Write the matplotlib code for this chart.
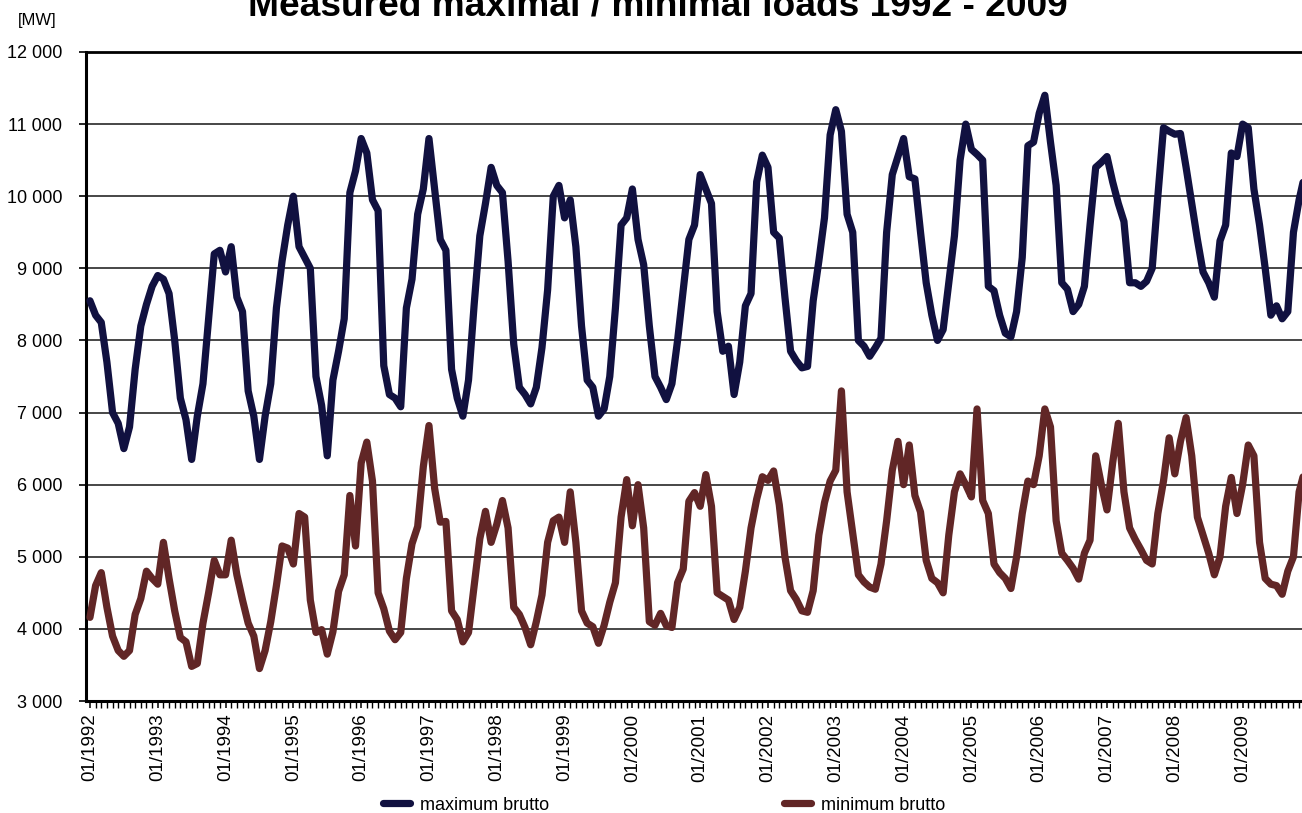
import matplotlib
matplotlib.use("Agg")
import matplotlib.pyplot as plt
from matplotlib.ticker import FixedLocator, MultipleLocator, FuncFormatter

plt.rcParams["font.family"] = ["Liberation Sans", "DejaVu Sans"]

# Monthly peak loads (MW), January 1992 - December 2009
max_brutto = [
    8550, 8350, 8250, 7700, 7000, 6850, 6500, 6800, 7600, 8200, 8500, 8750,      # 1992
    8900, 8850, 8650, 8000, 7200, 6900, 6350, 6950, 7400, 8300, 9200, 9250,      # 1993
    8950, 9300, 8600, 8400, 7300, 6950, 6350, 6950, 7400, 8450, 9100, 9600,      # 1994
    10000, 9300, 9150, 9000, 7500, 7100, 6400, 7450, 7850, 8300, 10050, 10350,   # 1995
    10800, 10600, 9950, 9800, 7650, 7250, 7200, 7080, 8450, 8850, 9750, 10100,   # 1996
    10800, 10100, 9400, 9250, 7600, 7200, 6950, 7450, 8500, 9450, 9900, 10400,   # 1997
    10150, 10050, 9100, 7950, 7350, 7250, 7120, 7350, 7900, 8700, 10000, 10150,  # 1998
    9700, 9950, 9300, 8200, 7450, 7350, 6950, 7050, 7500, 8450, 9600, 9700,      # 1999
    10100, 9400, 9050, 8200, 7500, 7350, 7180, 7400, 8000, 8700, 9400, 9600,     # 2000
    10300, 10100, 9900, 8400, 7850, 7920, 7250, 7700, 8480, 8650, 10200, 10570,  # 2001
    10400, 9500, 9420, 8600, 7850, 7720, 7620, 7640, 8550, 9100, 9700, 10850,    # 2002
    11200, 10900, 9750, 9500, 8000, 7920, 7780, 7900, 8030, 9500, 10300, 10550,  # 2003
    10800, 10270, 10240, 9500, 8800, 8350, 8000, 8150, 8800, 9450, 10500, 11000, # 2004
    10650, 10580, 10500, 8750, 8690, 8350, 8100, 8050, 8400, 9150, 10700, 10750, # 2005
    11150, 11400, 10750, 10150, 8800, 8710, 8400, 8500, 8750, 9600, 10400, 10470,  # 2006
    10550, 10200, 9900, 9650, 8800, 8800, 8750, 8820, 9000, 10000, 10950, 10900,   # 2007
    10860, 10870, 10400, 9900, 9400, 8950, 8800, 8600, 9380, 9600, 10600, 10550,   # 2008
    11000, 10950, 10100, 9600, 9000, 8350, 8480, 8300, 8400, 9500, 9950, 10300,    # 2009
]

# Monthly minimum loads (MW), January 1992 - December 2009
min_brutto = [
    4160, 4600, 4780, 4300, 3900, 3700, 3620, 3700, 4200, 4420, 4800, 4700,  # 1992
    4620, 5200, 4700, 4250, 3880, 3820, 3480, 3520, 4080, 4500, 4950, 4750,  # 1993
    4750, 5230, 4750, 4400, 4080, 3900, 3450, 3700, 4100, 4600, 5150, 5120,  # 1994
    4900, 5600, 5550, 4400, 3950, 3990, 3650, 3960, 4520, 4750, 5850, 5150,  # 1995
    6300, 6590, 6050, 4500, 4280, 3970, 3850, 3950, 4700, 5180, 5420, 6250,  # 1996
    6820, 5950, 5480, 5490, 4250, 4130, 3820, 3950, 4600, 5250, 5630, 5200,  # 1997
    5450, 5780, 5400, 4300, 4200, 4020, 3780, 4100, 4470, 5200, 5500, 5550,  # 1998
    5200, 5900, 5200, 4250, 4080, 4030, 3800, 4050, 4370, 4640, 5550, 6070,  # 1999
    5430, 6000, 5400, 4100, 4050, 4215, 4045, 4020, 4640, 4830, 5770, 5890,  # 2000
    5700, 6140, 5700, 4500, 4450, 4400, 4130, 4300, 4800, 5400, 5800, 6110,  # 2001
    6060, 6190, 5720, 5000, 4530, 4410, 4250, 4230, 4530, 5300, 5750, 6050,  # 2002
    6200, 7300, 5900, 5320, 4750, 4650, 4580, 4550, 4900, 5500, 6200, 6600,  # 2003
    6000, 6550, 5850, 5620, 4950, 4700, 4640, 4500, 5300, 5900, 6150, 6000,  # 2004
    5830, 7050, 5780, 5600, 4900, 4780, 4700, 4560, 5000, 5600, 6050, 6000,  # 2005
    6400, 7050, 6800, 5500, 5050, 4950, 4840, 4690, 5050, 5230, 6400, 6000,  # 2006
    5650, 6300, 6850, 5900, 5400, 5240, 5100, 4950, 4900, 5600, 6050, 6650,  # 2007
    6150, 6600, 6930, 6400, 5550, 5300, 5050, 4750, 5000, 5700, 6100, 5600,  # 2008
    6000, 6550, 6400, 5200, 4700, 4620, 4600, 4480, 4800, 5000, 5900, 6200,  # 2009
]

years = list(range(1992, 2010))
year_labels = [f"01/{y}" for y in years]
y_ticks = list(range(3000, 12001, 1000))

months = list(range(len(max_brutto)))

W, H = 1302, 813
fig = plt.figure(figsize=(W / 100, H / 100), dpi=100)
ax = fig.add_axes([86 / W, 1 - 701 / H, 1 - 86 / W, (701 - 52) / H])

navy = "#111140"
maroon = "#612626"
ax.plot(months, max_brutto, color=navy, lw=5.2, solid_joinstyle="round",
        solid_capstyle="round", label="maximum brutto", zorder=3)
ax.plot(months, min_brutto, color=maroon, lw=5.2, solid_joinstyle="round",
        solid_capstyle="round", label="minimum brutto", zorder=3)

ax.set_ylim(3000, 12000)
ax.set_xlim(-0.7, (W - 90) / 5.65)

ax.yaxis.set_major_locator(FixedLocator(y_ticks))
ax.yaxis.set_major_formatter(FuncFormatter(lambda v, p: f"{int(v):,}".replace(",", " ")))
ax.grid(axis="y", color="#383838", lw=1.3, zorder=1)

ax.xaxis.set_major_locator(FixedLocator([12 * i for i in range(len(years))]))
ax.set_xticklabels(year_labels, rotation=90, va="top", ha="center")
ax.xaxis.set_minor_locator(MultipleLocator(1))

ax.tick_params(axis="y", direction="out", length=5, width=1.2, pad=12,
               labelsize=13, colors="black")
ax.tick_params(axis="x", which="major", direction="out", length=5, width=1.1,
               pad=4, labelsize=13.5)
ax.tick_params(axis="x", which="minor", direction="out", length=5, width=1.0)

for side in ("left", "bottom", "top"):
    ax.spines[side].set_color("black")
ax.spines["left"].set_linewidth(2.2)
ax.spines["bottom"].set_linewidth(2.2)
ax.spines["top"].set_linewidth(2.0)
ax.spines["right"].set_visible(False)

fig.text(37 / W, 1 - 20 / H, "[MW]", ha="center", va="center", fontsize=12)
fig.text(658 / W, 1 - 15 / H, "Measured maximal / minimal loads 1992 - 2009",
         ha="center", va="baseline", fontsize=26.7, fontweight="bold")

handles, labels = ax.get_legend_handles_labels()
fig.legend(handles, labels, loc="center left", bbox_to_anchor=(383 / W, 1 - 805 / H),
           ncol=2, frameon=False, fontsize=13, handlelength=1.5, handletextpad=0.55,
           columnspacing=13.0, borderpad=0, borderaxespad=0)

fig.savefig("out.png", dpi=100)
